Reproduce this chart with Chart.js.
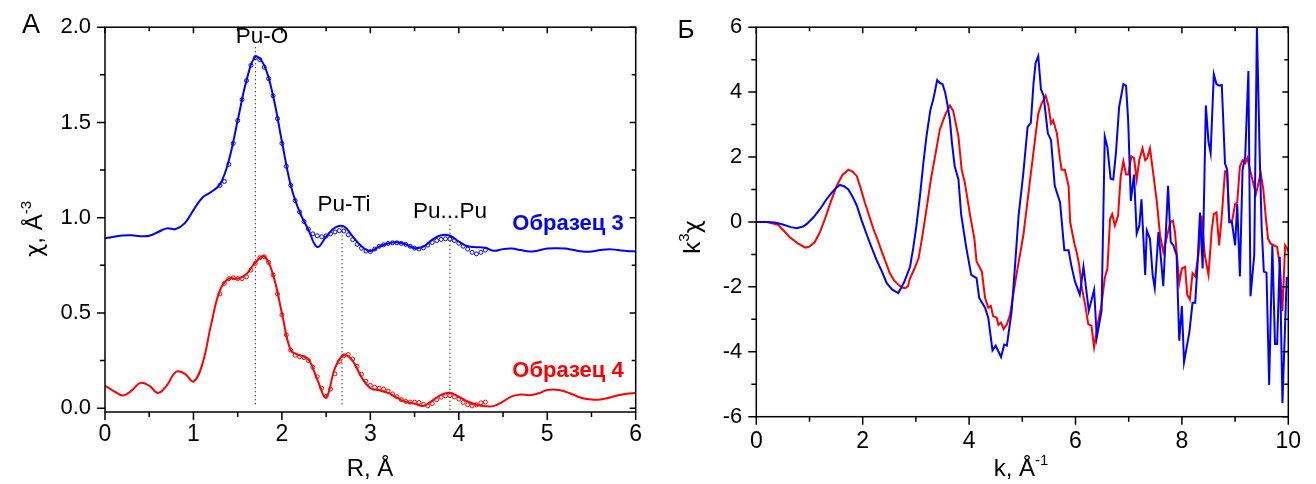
<!DOCTYPE html>
<html>
<head>
<meta charset="utf-8">
<script src="https://cdn.jsdelivr.net/npm/chart.js@4.4.1/dist/chart.umd.min.js"></script>
<style>
  html, body { margin: 0; padding: 0; background: #fff; }
  #wrap { position: relative; width: 1316px; height: 484px; }
  .panel { position: absolute; top: 0; width: 658px; height: 484px; }
  #left { left: 0; }
  #right { left: 658px; }
</style>
</head>
<body>
<div id="wrap">
  <div class="panel" id="left"><canvas id="ftChart" width="658" height="484"></canvas></div>
  <div class="panel" id="right"><canvas id="kChart" width="658" height="484"></canvas></div>
</div>
<script>
// --- panel A: Fourier transform magnitude, R in Å ---
const rGrid = [0.0, 0.1, 0.2, 0.3, 0.4, 0.5, 0.6, 0.7, 0.8, 0.9,
  1.0, 1.1, 1.2, 1.3, 1.4, 1.5, 1.6, 1.7, 1.8, 1.9,
  2.0, 2.1, 2.2, 2.3, 2.4, 2.5, 2.6, 2.7, 2.8, 2.9,
  3.0, 3.1, 3.2, 3.3, 3.4, 3.5, 3.6, 3.7, 3.8, 3.9,
  4.0, 4.1, 4.2, 4.3, 4.4, 4.5, 4.6, 4.7, 4.8, 4.9,
  5.0, 5.1, 5.2, 5.3, 5.4, 5.5, 5.6, 5.7, 5.8, 5.9, 6.0];
const ftSample3 = [0.892, 0.900, 0.907, 0.908, 0.903, 0.905, 0.925, 0.944, 0.941, 0.970,
  1.040, 1.105, 1.135, 1.175, 1.300, 1.510, 1.720, 1.845, 1.800, 1.640,
  1.400, 1.170, 1.030, 0.937, 0.846, 0.900, 0.948, 0.954, 0.902, 0.850,
  0.825, 0.848, 0.865, 0.871, 0.860, 0.840, 0.848, 0.885, 0.908, 0.905,
  0.875, 0.850, 0.845, 0.842, 0.826, 0.835, 0.838, 0.830, 0.822, 0.828,
  0.838, 0.840, 0.838, 0.830, 0.822, 0.822, 0.830, 0.835, 0.830, 0.825, 0.823];
const ftSample4 = [0.119, 0.090, 0.067, 0.092, 0.133, 0.118, 0.080, 0.120, 0.190, 0.182,
  0.140, 0.230, 0.440, 0.620, 0.680, 0.680, 0.705, 0.765, 0.797, 0.700,
  0.500, 0.305, 0.278, 0.257, 0.150, 0.058, 0.210, 0.279, 0.248, 0.162,
  0.105, 0.094, 0.080, 0.055, 0.033, 0.024, 0.012, 0.040, 0.070, 0.081,
  0.060, 0.035, 0.018, 0.010, 0.012, 0.035, 0.062, 0.072, 0.068, 0.078,
  0.095, 0.097, 0.088, 0.070, 0.052, 0.045, 0.045, 0.055, 0.068, 0.076, 0.080];

const rFit = [1.30, 1.35, 1.40, 1.45, 1.50, 1.55, 1.60, 1.65, 1.70, 1.75,
  1.80, 1.85, 1.90, 1.95, 2.00, 2.05, 2.10, 2.15, 2.20, 2.25,
  2.30, 2.35, 2.40, 2.45, 2.50, 2.55, 2.60, 2.65, 2.70, 2.75,
  2.80, 2.85, 2.90, 2.95, 3.00, 3.05, 3.10, 3.15, 3.20, 3.25,
  3.30, 3.35, 3.40, 3.45, 3.50, 3.55, 3.60, 3.65, 3.70, 3.75,
  3.80, 3.85, 3.90, 3.95, 4.00, 4.05, 4.10, 4.15, 4.20, 4.25, 4.30];
const fitSample3 = [1.170, 1.190, 1.280, 1.390, 1.510, 1.620, 1.720, 1.800, 1.840, 1.830,
  1.790, 1.730, 1.640, 1.520, 1.390, 1.270, 1.170, 1.090, 1.030, 0.980,
  0.940, 0.915, 0.905, 0.900, 0.905, 0.915, 0.925, 0.932, 0.930, 0.910,
  0.885, 0.860, 0.840, 0.825, 0.822, 0.835, 0.850, 0.858, 0.865, 0.868,
  0.868, 0.865, 0.860, 0.850, 0.840, 0.836, 0.842, 0.856, 0.870, 0.880,
  0.886, 0.889, 0.888, 0.880, 0.866, 0.850, 0.835, 0.818, 0.810, 0.818, 0.830];
const fitSample4 = [0.600, 0.655, 0.680, 0.685, 0.680, 0.680, 0.690, 0.725, 0.760, 0.790,
  0.795, 0.765, 0.700, 0.600, 0.490, 0.385, 0.305, 0.278, 0.270, 0.265,
  0.250, 0.215, 0.165, 0.105, 0.062, 0.100, 0.180, 0.245, 0.275, 0.282,
  0.258, 0.220, 0.178, 0.142, 0.120, 0.110, 0.105, 0.100, 0.090, 0.075,
  0.060, 0.045, 0.036, 0.032, 0.032, 0.030, 0.020, 0.012, 0.025, 0.045,
  0.058, 0.065, 0.066, 0.060, 0.048, 0.030, 0.018, 0.012, 0.018, 0.028, 0.032];

// dotted guide lines at the coordination shells
const shellR = [1.70, 2.68, 3.90];
const shellLow = [0.02, 0.02, -0.01];
const shellHigh = [1.90, 0.955, 0.97];
const shellNames = ['Pu-O', 'Pu-Ti', 'Pu...Pu'];

const leftXMajor = [0, 1, 2, 3, 4, 5, 6];
const leftXMinor = [0.5, 1.5, 2.5, 3.5, 4.5, 5.5];
const leftYMajor = [0, 0.5, 1.0, 1.5, 2.0];
const leftYMinor = [0.25, 0.75, 1.25, 1.75];

// --- panel Б: k^3-weighted EXAFS ---
const kSample3 = [0.00, 0.20, 0.35, 0.50, 0.65, 0.76, 0.88, 0.95, 1.08, 1.20,
  1.32, 1.42, 1.50, 1.57, 1.65, 1.73, 1.81, 1.89, 1.98, 2.08,
  2.17, 2.26, 2.36, 2.45, 2.55, 2.67, 2.78, 2.89, 2.95, 3.01,
  3.08, 3.14, 3.20, 3.27, 3.33, 3.36, 3.40, 3.45, 3.50, 3.55,
  3.60, 3.64, 3.68, 3.73, 3.80, 3.85, 3.90, 3.95, 4.04, 4.14,
  4.19, 4.30, 4.36, 4.44, 4.50, 4.60, 4.66, 4.71, 4.80, 4.87,
  4.93, 5.02, 5.10, 5.16, 5.21, 5.25, 5.30, 5.35, 5.40, 5.48,
  5.54, 5.61, 5.71, 5.79, 5.87, 5.92, 5.99, 6.08, 6.15, 6.25,
  6.35, 6.40, 6.49, 6.55, 6.60, 6.66, 6.71, 6.76, 6.82, 6.90,
  6.95, 6.99, 7.04, 7.10, 7.15, 7.20, 7.24, 7.31, 7.34, 7.40,
  7.45, 7.49, 7.56, 7.60, 7.65, 7.74, 7.79, 7.84, 7.90, 7.95,
  8.00, 8.04, 8.14, 8.20, 8.25, 8.29, 8.34, 8.39, 8.45, 8.50,
  8.54, 8.60, 8.65, 8.70, 8.75, 8.81, 8.85, 8.89, 8.94, 9.00,
  9.04, 9.09, 9.14, 9.19, 9.25, 9.29, 9.36, 9.41, 9.46, 9.50,
  9.54, 9.59, 9.64, 9.70, 9.75, 9.79, 9.84, 9.89, 9.97, 10.00];
const exafsSample3 = [0.00, 0.00, -0.02, -0.08, -0.16, -0.19, -0.14, -0.06, 0.15, 0.40,
  0.70, 0.90, 1.05, 1.14, 1.10, 1.00, 0.78, 0.50, 0.05, -0.41,
  -0.80, -1.17, -1.52, -1.88, -2.08, -2.19, -1.85, -1.38, -0.80, -0.11,
  0.85, 1.81, 2.65, 3.43, 3.80, 4.04, 4.37, 4.28, 4.25, 3.99,
  3.55, 3.13, 2.40, 1.71, 1.31, 0.24, -0.30, -0.82, -1.63, -1.73,
  -2.34, -2.64, -2.95, -3.96, -3.81, -4.16, -3.78, -3.81, -2.74, -1.20,
  0.19, 1.51, 2.93, 3.05, 4.25, 4.90, 5.11, 4.09, 3.89, 2.73,
  2.52, 1.11, 0.60, -0.87, -0.87, -1.33, -1.83, -2.24, -1.38, -2.74,
  -2.09, -3.56, -2.74, 2.63, 2.30, 1.33, 1.31, 2.12, 3.54, 4.25,
  4.20, 3.13, 0.65, 1.46, -0.36, -0.11, 0.70, -1.63, -0.26, -0.52,
  -1.63, -2.04, -0.31, -1.02, -1.98, 1.11, -0.62, -0.72, -1.02, -3.66,
  -2.59, -4.32, -3.40, -2.49, -2.49, -1.43, 0.29, -1.43, 3.59, 2.47,
  2.12, 4.55, 4.25, 4.20, 4.22, 1.81, 1.61, -0.01, -0.01, -0.72,
  0.55, -1.68, 1.61, 2.02, 4.65, -2.29, -1.02, 6.00, 2.22, -0.21,
  -1.53, -1.56, -5.02, -0.72, -3.76, -3.76, -1.07, -5.58, -1.73, -1.73];

const kSample4 = [0.00, 0.20, 0.41, 0.52, 0.63, 0.78, 0.92, 1.00, 1.10, 1.20,
  1.29, 1.40, 1.51, 1.62, 1.73, 1.81, 1.89, 1.96, 2.04, 2.12,
  2.20, 2.28, 2.36, 2.44, 2.51, 2.59, 2.67, 2.74, 2.80, 2.85,
  2.89, 2.97, 3.05, 3.12, 3.20, 3.28, 3.36, 3.45, 3.55, 3.64,
  3.70, 3.80, 3.86, 3.92, 4.02, 4.10, 4.14, 4.24, 4.30, 4.36,
  4.41, 4.45, 4.52, 4.55, 4.60, 4.65, 4.71, 4.77, 4.89, 5.02,
  5.14, 5.23, 5.30, 5.36, 5.44, 5.49, 5.54, 5.58, 5.65, 5.71,
  5.74, 5.80, 5.87, 5.90, 5.98, 6.02, 6.07, 6.12, 6.18, 6.24,
  6.30, 6.35, 6.43, 6.49, 6.55, 6.60, 6.65, 6.69, 6.74, 6.80,
  6.85, 6.90, 6.95, 6.99, 7.05, 7.10, 7.15, 7.20, 7.26, 7.31,
  7.35, 7.40, 7.46, 7.53, 7.59, 7.65, 7.71, 7.78, 7.83, 7.87,
  7.90, 7.95, 8.00, 8.06, 8.10, 8.15, 8.20, 8.25, 8.31, 8.37,
  8.43, 8.50, 8.56, 8.60, 8.65, 8.70, 8.75, 8.81, 8.85, 8.89,
  8.94, 9.00, 9.04, 9.09, 9.14, 9.19, 9.23, 9.28, 9.34, 9.39,
  9.44, 9.48, 9.53, 9.58, 9.62, 9.67, 9.73, 9.79, 9.84, 9.89,
  9.94, 9.98, 10.00];
const exafsSample4 = [0.00, 0.00, -0.09, -0.28, -0.47, -0.66, -0.79, -0.76, -0.62, -0.30,
  0.09, 0.62, 1.11, 1.45, 1.61, 1.55, 1.41, 1.05, 0.60, 0.20,
  -0.21, -0.55, -0.92, -1.27, -1.58, -1.80, -1.93, -2.02, -2.04, -1.98,
  -1.73, -1.45, -1.12, -0.45, 0.40, 1.30, 2.02, 2.85, 3.30, 3.59,
  3.43, 2.63, 1.61, 1.21, 0.19, -0.52, -1.22, -1.53, -2.34, -2.64,
  -2.59, -2.90, -2.95, -3.17, -3.10, -3.30, -3.15, -2.85, -1.63, -0.41,
  1.21, 2.42, 3.33, 3.64, 3.89, 3.59, 3.03, 3.13, 2.73, 1.92,
  1.61, 1.61, 1.11, -0.01, -0.67, -0.92, -1.33, -2.04, -2.54, -3.15,
  -3.20, -3.86, -3.05, -2.54, -1.73, -1.43, 0.09, 0.24, -0.11, 0.19,
  1.41, 1.87, 1.46, 1.46, 2.02, 1.97, 1.31, 1.92, 2.27, 1.90,
  1.97, 2.27, 1.51, 0.60, -0.41, -0.92, -0.52, -0.01, 0.04, -0.31,
  -0.92, -1.88, -1.43, -1.38, -2.24, -2.39, -1.58, -1.68, -1.02, 0.19,
  -1.02, -1.63, -0.26, 0.24, 0.29, -0.72, 0.19, 1.56, 1.56, 0.09,
  -0.01, 0.55, 0.60, 1.71, 1.90, 1.81, 1.97, 1.61, 1.21, 0.85,
  1.21, 1.51, 1.00, 0.09, -0.52, -0.67, -0.72, -0.77, -1.33, -2.74,
  -0.72, -0.82, -0.92];

const rightXMajor = [0, 2, 4, 6, 8, 10];
const rightXMinor = [1, 3, 5, 7, 9];
const rightYMajor = [-6, -4, -2, 0, 2, 4, 6];
const rightYMinor = [-5, -3, -1, 1, 3, 5];

const BLUE = '#0000ff';
const RED = '#ff0000';
const FONT = "'Liberation Sans', Arial, sans-serif";
const GREEK = "'DejaVu Sans', sans-serif";

const pts = (xs, ys) => xs.map((x, i) => ({ x, y: ys[i] }));

function drawRich(ctx, parts, x, y, align, angle) {
  ctx.save();
  ctx.translate(x, y);
  if (angle) ctx.rotate(angle);
  let total = 0;
  parts.forEach(p => { ctx.font = p.font; p.w = ctx.measureText(p.t).width; total += p.w; });
  let cx = align === 'center' ? -total / 2 : (align === 'right' ? -total : 0);
  ctx.textBaseline = 'alphabetic';
  ctx.textAlign = 'left';
  parts.forEach(p => {
    ctx.font = p.font;
    ctx.fillStyle = p.color || '#000';
    ctx.fillText(p.t, cx, p.dy || 0);
    cx += p.w;
  });
  ctx.restore();
}

// box, outward ticks on bottom/left, inward ticks on top/right
const framePlugin = {
  id: 'frame',
  afterDatasetsDraw(chart, args, opts) {
    const { ctx, chartArea: a } = chart;
    const x = chart.scales.x, y = chart.scales.y;
    ctx.save();
    ctx.strokeStyle = '#000';
    ctx.lineWidth = 1.5;
    ctx.strokeRect(a.left, a.top, a.right - a.left, a.bottom - a.top);
    ctx.beginPath();
    const xt = (vals, outLen, inLen) => vals.forEach(v => {
      const px = x.getPixelForValue(v);
      ctx.moveTo(px, a.bottom); ctx.lineTo(px, a.bottom + outLen);
      ctx.moveTo(px, a.top); ctx.lineTo(px, a.top + inLen);
    });
    const yt = (vals, outLen, inLen) => vals.forEach(v => {
      const py = y.getPixelForValue(v);
      ctx.moveTo(a.left, py); ctx.lineTo(a.left - outLen, py);
      ctx.moveTo(a.right, py); ctx.lineTo(a.right - inLen, py);
    });
    xt(opts.xMajor, 8, 6); xt(opts.xMinor, 5, 4);
    yt(opts.yMajor, 8, 6); yt(opts.yMinor, 5, 4);
    ctx.stroke();
    ctx.restore();
  },
  afterDraw(chart, args, opts) {
    const ctx = chart.ctx;
    (opts.texts || []).forEach(t => drawRich(ctx, t.parts, t.x, t.y, t.align || 'center', t.angle || 0));
  }
};

function scaleOpts(min, max, major, fmt, pad, size, axis) {
  return {
    type: 'linear', min, max,
    position: axis === 'x' ? 'bottom' : 'left',
    grid: { display: false, drawTicks: false },
    border: { display: false },
    afterBuildTicks: s => { s.ticks = major.map(v => ({ value: v })); },
    ticks: { autoSkip: false, maxRotation: 0, padding: pad, color: '#000',
      font: { family: FONT, size }, callback: fmt }
  };
}

const f = (size, weight, fam) => (weight ? weight + ' ' : '') + size + 'px ' + (fam || FONT);

// ---------- left chart ----------
new Chart(document.getElementById('ftChart'), {
  type: 'line',
  data: {
    datasets: [
      { data: pts(rFit, fitSample3), showLine: false, pointRadius: 2, pointBorderWidth: 1,
        pointBorderColor: BLUE, pointBackgroundColor: 'rgba(255,255,255,0)' },
      { data: pts(rFit, fitSample4), showLine: false, pointRadius: 2, pointBorderWidth: 1,
        pointBorderColor: RED, pointBackgroundColor: 'rgba(255,255,255,0)' },
      { data: pts(rGrid, ftSample3), borderColor: BLUE, borderWidth: 2, pointRadius: 0, tension: 0.4 },
      { data: pts(rGrid, ftSample4), borderColor: RED, borderWidth: 2, pointRadius: 0, tension: 0.4 },
      ...shellR.map((r, i) => ({
        data: [{ x: r, y: shellLow[i] }, { x: r, y: shellHigh[i] }],
        borderColor: '#333', borderWidth: 1, borderDash: [1.5, 2.5], pointRadius: 0
      }))
    ]
  },
  options: {
    responsive: false, animation: false, events: [],
    layout: { padding: { top: 20.7, right: 22.3, left: 0, bottom: 0 } },
    scales: {
      x: { ...scaleOpts(0, 6, leftXMajor, v => String(v), 9, 23, 'x'), afterFit: s => { s.height = 72; } },
      y: { ...scaleOpts(-0.02, 2.0, leftYMajor, v => v.toFixed(1), 14, 22, 'y'), afterFit: s => { s.width = 105; } }
    },
    plugins: {
      legend: { display: false }, tooltip: { enabled: false },
      frame: {
        xMajor: leftXMajor, xMinor: leftXMinor, yMajor: leftYMajor, yMinor: leftYMinor,
        texts: [
          { parts: [{ t: 'А', font: f(27) }], x: 31, y: 33 },
          { parts: [{ t: 'R, Å', font: f(24) }], x: 370, y: 476 },
          { parts: [{ t: 'χ', font: f(23, '', GREEK) }, { t: ', Å', font: f(24) }, { t: '-3', font: f(15), dy: -11 }],
            x: 42, y: 229, angle: -Math.PI / 2 },
          { parts: [{ t: shellNames[0], font: f(22.5) }], x: 262, y: 43 },
          { parts: [{ t: shellNames[1], font: f(22.5) }], x: 344, y: 211 },
          { parts: [{ t: shellNames[2], font: f(22.5) }], x: 450, y: 218 },
          { parts: [{ t: 'Образец 3', font: f(22, 'bold'), color: BLUE }], x: 568, y: 230 },
          { parts: [{ t: 'Образец 4', font: f(22, 'bold'), color: RED }], x: 568, y: 377 }
        ]
      }
    }
  },
  plugins: [framePlugin]
});

// ---------- right chart ----------
new Chart(document.getElementById('kChart'), {
  type: 'line',
  data: {
    datasets: [
      { data: pts(kSample3, exafsSample3), borderColor: BLUE, borderWidth: 2, pointRadius: 0, tension: 0 },
      { data: pts(kSample4, exafsSample4), borderColor: RED, borderWidth: 2, pointRadius: 0, tension: 0 }
    ]
  },
  options: {
    responsive: false, animation: false, events: [],
    layout: { padding: { top: 22, right: 27.7, left: 0, bottom: 0 } },
    scales: {
      x: { ...scaleOpts(0, 10, rightXMajor, v => String(v), 11, 23, 'x'), afterFit: s => { s.height = 67.3; } },
      y: { ...scaleOpts(-6, 6, rightYMajor, v => String(v), 14, 22, 'y'), afterFit: s => { s.width = 98.3; } }
    },
    plugins: {
      legend: { display: false }, tooltip: { enabled: false },
      frame: {
        xMajor: rightXMajor, xMinor: rightXMinor, yMajor: rightYMajor, yMinor: rightYMinor,
        texts: [
          { parts: [{ t: 'Б', font: f(26) }], x: 28, y: 38 },
          { parts: [{ t: 'k, Å', font: f(24) }, { t: '-1', font: f(15), dy: -11 }], x: 363, y: 476 },
          { parts: [{ t: 'k', font: f(24) }, { t: '3', font: f(15), dy: -11 }, { t: 'χ', font: f(23, '', GREEK) }],
            x: 42, y: 237, angle: -Math.PI / 2 }
        ]
      }
    }
  },
  plugins: [framePlugin]
});
</script>
</body>
</html>
